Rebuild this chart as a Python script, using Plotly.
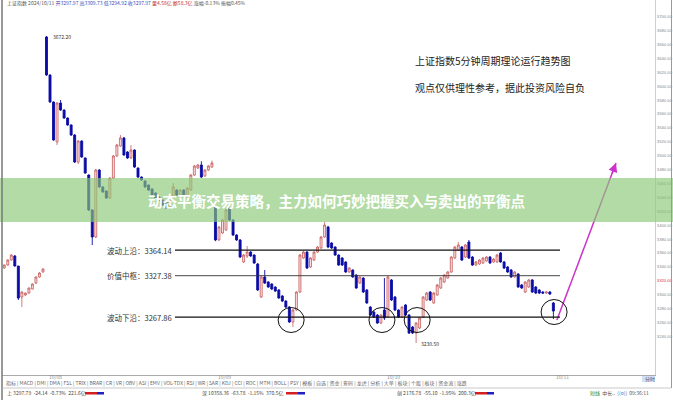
import plotly.graph_objects as go

# ---------------- data (SSE index, 5-minute bars) ----------------
# last bars of 2024/09/30
sep30_open  = [3338.4, 3342.7, 3349.9, 3355.7, 3341.3, 3296.7, 3299.6, 3302.4, 3308.2, 3316.8, 3325.5, 3332.7]
sep30_high  = [3343.5, 3351.0, 3358.5, 3357.1, 3341.3, 3305.0, 3303.0, 3310.5, 3316.5, 3326.5, 3332.5, 3338.0]
sep30_low   = [3337.5, 3342.0, 3349.0, 3340.5, 3292.4, 3282.3, 3298.5, 3301.5, 3307.5, 3315.5, 3324.5, 3332.0]
sep30_close = [3342.7, 3349.9, 3357.1, 3341.3, 3295.2, 3303.9, 3302.4, 3309.6, 3315.4, 3325.5, 3331.2, 3337.0]

oct08_open  = [3670.8, 3616.1, 3577.3, 3519.7, 3575.8, 3565.7, 3554.2, 3544.2, 3529.8, 3490.9, 3521.1, 3496.7,
               3472.2, 3421.9, 3383.0, 3479.4, 3455.0, 3449.2, 3439.1, 3467.9, 3499.6, 3514.0, 3525.5, 3505.3,
               3496.7, 3508.2, 3482.3, 3469.3, 3463.6, 3457.8, 3452.1, 3446.3, 3440.6, 3436.3, 3434.8, 3424.7,
               3440.6, 3450.6, 3443.5, 3450.6, 3440.6, 3450.6, 3472.2, 3482.3, 3486.6, 3470.8, 3479.4, 3483.7]
oct08_high  = [3672.2, 3617.0, 3578.0, 3577.0, 3580.1, 3566.5, 3555.0, 3545.0, 3531.0, 3522.5, 3522.0, 3497.5,
               3473.0, 3423.0, 3481.0, 3480.5, 3456.0, 3450.0, 3469.0, 3501.0, 3517.0, 3529.8, 3527.0, 3506.5,
               3515.4, 3509.0, 3483.0, 3470.0, 3464.5, 3458.5, 3453.0, 3447.0, 3441.5, 3437.0, 3435.5, 3443.0,
               3460.7, 3451.5, 3452.0, 3451.5, 3454.5, 3473.5, 3486.5, 3488.0, 3492.0, 3480.5, 3486.5, 3493.0]
oct08_low   = [3615.0, 3576.0, 3521.5, 3515.4, 3564.5, 3553.0, 3543.0, 3528.5, 3489.5, 3488.0, 3497.0, 3474.0,
               3420.5, 3371.5, 3381.5, 3454.0, 3446.5, 3438.0, 3437.5, 3466.5, 3498.5, 3513.0, 3500.0, 3495.5,
               3495.5, 3482.5, 3468.0, 3464.0, 3454.0, 3449.5, 3442.5, 3438.0, 3435.0, 3428.0, 3423.5, 3423.5,
               3439.5, 3442.5, 3442.5, 3439.5, 3439.5, 3449.5, 3471.0, 3481.0, 3468.0, 3469.5, 3478.0, 3482.5]
oct08_close = [3616.1, 3577.3, 3522.6, 3575.8, 3565.7, 3554.2, 3544.2, 3529.8, 3490.9, 3521.1, 3498.1, 3475.1,
               3421.9, 3383.0, 3479.4, 3455.0, 3447.8, 3439.1, 3467.9, 3499.6, 3515.4, 3525.5, 3501.0, 3496.7,
               3508.2, 3483.7, 3469.3, 3465.0, 3455.0, 3450.6, 3443.5, 3439.1, 3436.3, 3429.1, 3424.7, 3442.0,
               3455.0, 3443.5, 3450.6, 3440.6, 3453.5, 3472.2, 3485.2, 3486.6, 3469.3, 3479.4, 3485.2, 3489.5]

oct09_open  = [3426.2, 3378.7, 3388.8, 3393.1, 3424.7, 3407.5, 3385.9, 3378.7, 3347.1, 3355.7, 3361.4, 3357.1,
               3344.2, 3296.7, 3325.5, 3318.3, 3315.4, 3311.1, 3306.8, 3298.1, 3290.9, 3282.3, 3260.7, 3278.0,
               3303.9, 3352.8, 3361.4, 3339.9, 3349.9, 3361.4, 3367.2, 3383.0, 3397.4, 3374.4, 3368.6, 3357.1,
               3352.8, 3347.1, 3332.7, 3335.5, 3328.3, 3316.8, 3324.0, 3306.8, 3282.3, 3275.1, 3270.8, 3259.3]
oct09_high  = [3428.0, 3399.0, 3409.0, 3423.5, 3426.2, 3408.5, 3387.0, 3380.0, 3358.5, 3370.1, 3362.5, 3358.0,
               3345.5, 3327.0, 3335.5, 3319.5, 3316.5, 3312.0, 3308.0, 3299.5, 3292.0, 3283.5, 3279.5, 3305.0,
               3358.5, 3363.0, 3362.5, 3354.0, 3362.5, 3370.0, 3384.5, 3404.6, 3399.0, 3375.5, 3369.5, 3358.0,
               3354.0, 3348.0, 3339.5, 3336.5, 3329.5, 3326.5, 3325.0, 3308.0, 3283.5, 3276.5, 3272.0, 3272.0]
oct09_low   = [3377.0, 3377.5, 3387.5, 3392.0, 3406.0, 3384.5, 3377.5, 3353.0, 3345.5, 3352.8, 3354.5, 3344.5,
               3305.5, 3295.3, 3315.5, 3310.0, 3307.0, 3304.0, 3294.0, 3289.5, 3281.0, 3259.5, 3253.5, 3277.0,
               3302.5, 3351.5, 3337.0, 3338.5, 3348.5, 3360.0, 3366.0, 3382.0, 3367.0, 3366.0, 3356.0, 3341.5,
               3341.5, 3331.5, 3331.5, 3324.5, 3308.5, 3315.5, 3302.5, 3287.0, 3269.5, 3266.5, 3258.0, 3258.0]
oct09_close = [3378.7, 3397.4, 3407.5, 3421.9, 3407.5, 3385.9, 3378.7, 3354.2, 3357.1, 3361.4, 3355.7, 3345.6,
               3306.8, 3325.5, 3316.8, 3311.1, 3308.2, 3305.3, 3295.3, 3290.9, 3282.3, 3260.7, 3278.0, 3303.9,
               3357.1, 3361.4, 3338.4, 3352.8, 3361.4, 3368.6, 3383.0, 3400.3, 3368.6, 3367.2, 3357.1, 3342.7,
               3342.7, 3332.7, 3338.4, 3325.5, 3309.6, 3325.5, 3303.9, 3288.1, 3270.8, 3267.9, 3259.3, 3270.8]

oct10_open  = [3278.0, 3267.9, 3321.2, 3296.7, 3278.0, 3267.9, 3285.2, 3270.8, 3253.5, 3244.9, 3252.1, 3267.9,
               3292.4, 3303.9, 3288.1, 3299.6, 3309.6, 3318.3, 3324.0, 3332.7, 3352.8, 3364.3, 3368.6, 3354.2,
               3375.8, 3354.2, 3342.7, 3344.2, 3345.6, 3348.5, 3354.2, 3347.1, 3347.1, 3360.0, 3347.1, 3339.9,
               3335.5, 3325.5, 3329.8, 3314.0, 3303.9, 3311.1, 3321.2, 3311.1, 3306.8, 3303.9, 3302.4, 3303.9]
oct10_high  = [3324.0, 3327.0, 3322.5, 3298.0, 3279.0, 3283.5, 3286.5, 3272.0, 3255.0, 3260.5, 3268.0, 3298.0,
               3304.0, 3305.0, 3304.0, 3315.5, 3325.5, 3329.5, 3334.0, 3355.5, 3370.0, 3375.8, 3370.0, 3373.0,
               3378.7, 3355.5, 3348.5, 3351.0, 3354.0, 3355.5, 3355.5, 3352.5, 3358.5, 3361.5, 3348.5, 3341.0,
               3337.0, 3334.0, 3331.0, 3315.5, 3319.5, 3322.5, 3322.5, 3312.5, 3308.0, 3305.0, 3305.0, 3305.0]
oct10_low   = [3263.6, 3266.5, 3291.0, 3276.5, 3266.5, 3266.5, 3269.5, 3243.5, 3243.5, 3230.5, 3250.5, 3266.5,
               3291.0, 3291.0, 3287.0, 3298.5, 3308.5, 3317.0, 3323.0, 3331.5, 3351.5, 3363.0, 3348.5, 3353.0,
               3351.5, 3341.5, 3341.5, 3343.0, 3344.5, 3347.5, 3344.5, 3346.0, 3346.0, 3346.0, 3337.0, 3331.5,
               3324.5, 3324.5, 3310.0, 3308.5, 3302.5, 3310.0, 3302.5, 3301.0, 3301.0, 3301.0, 3301.0, 3300.0]
oct10_close = [3266.5, 3325.5, 3292.4, 3278.0, 3267.9, 3282.3, 3270.8, 3244.9, 3244.9, 3259.3, 3266.5, 3296.7,
               3302.4, 3292.4, 3302.4, 3314.0, 3324.0, 3328.3, 3332.7, 3354.2, 3368.6, 3371.5, 3349.9, 3371.5,
               3352.8, 3342.7, 3347.1, 3349.9, 3352.8, 3354.2, 3345.6, 3351.4, 3357.1, 3347.1, 3338.4, 3332.7,
               3325.5, 3332.7, 3311.1, 3309.6, 3318.3, 3321.2, 3303.9, 3302.4, 3302.4, 3302.4, 3303.9, 3301.0]

oct11_open  = [3288.1]
oct11_high  = [3289.5]
oct11_low   = [3265.0]
oct11_close = [3276.5]

day_labels = ["2024/09/30", "10/08", "10/09", "10/10", "10/11"]

level_names  = ["波动上沿", "价值中枢", "波动下沿"]
level_values = [3364.14, 3327.38, 3267.86]

ytick_values = list(range(3240, 3701, 20))

# circled bars (bar index, price)
circle_idx   = [69.5, 95.3, 105.3, 144.2]
circle_price = [3263.6, 3263.6, 3263.6, 3275.1]

# projected move arrow (bar index, price)
arrow_from = (145.0, 3263.6)
arrow_to   = (161.8, 3489.5)

# ---------------- assemble ----------------
opens  = sep30_open + oct08_open + oct09_open + oct10_open + oct11_open
highs  = sep30_high + oct08_high + oct09_high + oct10_high + oct11_high
lows   = sep30_low + oct08_low + oct09_low + oct10_low + oct11_low
closes = sep30_close + oct08_close + oct09_close + oct10_close + oct11_close
x_idx = list(range(-len(sep30_open), len(opens) - len(sep30_open)))
day_start_idx = [-12.65, 0, 48, 96, 144]

fig = go.Figure()
fig.add_trace(go.Candlestick(
    x=x_idx, open=opens, high=highs, low=lows, close=closes,
    increasing=dict(line=dict(color="#c45a5a", width=0.8), fillcolor="#ffe1e1"),
    decreasing=dict(line=dict(color="#0b0ba6", width=0.9), fillcolor="#0b0ba6"),
    whiskerwidth=0, showlegend=False, hoverinfo="skip",
))

# magenta projection line (drawn as trace so the banner tints it)
fig.add_trace(go.Scatter(
    x=[arrow_from[0], arrow_to[0]], y=[arrow_from[1], arrow_to[1]],
    mode="lines", line=dict(color="#cc33cc", width=1.5),
    showlegend=False, hoverinfo="skip",
))

X0, X1 = -12.64, 172.87
Y0, Y1 = 3184.5, 3724.0
PH = 375.0  # plot height in px


def py(p):
    return 1 - p / PH


shapes = []
annotations = []

# level lines + labels
line_start, line_end = 36.5, 145.9
for name, val, lw, col in zip(level_names, level_values, [1.3, 0.9, 1.3], ["#111", "#333", "#111"]):
    shapes.append(dict(type="line", xref="x", yref="y", x0=line_start, x1=line_end, y0=val, y1=val,
                       line=dict(color=col, width=lw), layer="above"))
    annotations.append(dict(xref="x", yref="y", x=line_start, y=val, xanchor="right", yanchor="middle",
                            xshift=-1, text=f"{name}：{val:.2f}", showarrow=False,
                            font=dict(size=7.5, color="#333", family="Noto Sans CJK SC")))

# circles
for ci, cp in zip(circle_idx, circle_price):
    shapes.append(dict(type="circle", xref="x", yref="y", xsizemode="pixel", ysizemode="pixel",
                       xanchor=ci, yanchor=cp, x0=-13, x1=13, y0=-12.5, y1=12.5,
                       line=dict(color="#111", width=1), layer="above"))

# banner
shapes.append(dict(type="rect", xref="paper", yref="paper", x0=-0.01, x1=1.04, y0=py(222), y1=py(178),
                   fillcolor="rgba(140,200,118,0.66)", line=dict(width=0), layer="above"))

# borders
shapes.append(dict(type="line", xref="paper", yref="paper", x0=0, x1=0, y0=py(400), y1=1,
                   line=dict(color="#777", width=1.5)))
shapes.append(dict(type="line", xref="paper", yref="paper", x0=(671.5 - 2) / 653, x1=(671.5 - 2) / 653,
                   y0=py(388), y1=1, line=dict(color="#999", width=1)))
shapes.append(dict(type="line", xref="paper", yref="paper", x0=0, x1=(671 - 2) / 653, y0=py(388), y1=py(388),
                   line=dict(color="#bbb", width=0.8)))
# "分时" tab box
shapes.append(dict(type="rect", xref="paper", yref="paper", x0=(642 - 2) / 653, x1=(655 - 2) / 653,
                   y0=py(382), y1=py(376), fillcolor="#cfe0f5", line=dict(width=0)))

# arrow head
annotations.append(dict(xref="x", yref="y", x=arrow_to[0], y=arrow_to[1], ax=-4.5, ay=12, text="",
                        showarrow=True, arrowhead=2, arrowsize=1.2, arrowwidth=1.5, arrowcolor="#cc33cc"))

# extreme labels
hi_i = highs.index(max(highs))
annotations.append(dict(xref="x", yref="y", x=x_idx[hi_i], y=highs[hi_i], xanchor="left", yanchor="middle",
                        xshift=5, text=f"{highs[hi_i]:.2f}", showarrow=False, font=dict(size=5, color="#333")))
lo_i = lows.index(min(lows[12:]))
annotations.append(dict(xref="x", yref="y", x=x_idx[lo_i], y=lows[lo_i], xanchor="left", yanchor="middle",
                        xshift=3, text=f"{lows[lo_i]:.2f}", showarrow=False, font=dict(size=5, color="#333")))

# title texts
annotations.append(dict(xref="paper", yref="paper", x=(413 - 2) / 653, y=py(60), xanchor="left", yanchor="middle",
                        text="上证指数5分钟周期理论运行趋势图", showarrow=False,
                        font=dict(size=10, color="#222", family="Noto Sans CJK SC")))
annotations.append(dict(xref="paper", yref="paper", x=(413 - 2) / 653, y=py(87), xanchor="left", yanchor="middle",
                        text="观点仅供理性参考，据此投资风险自负", showarrow=False,
                        font=dict(size=10, color="#222", family="Noto Sans CJK SC")))

# banner title
annotations.append(dict(xref="paper", yref="paper", x=(336.5 - 2) / 653, y=py(200), xanchor="center",
                        yanchor="middle", text="<b>动态平衡交易策略，主力如何巧妙把握买入与卖出的平衡点</b>",
                        showarrow=False, font=dict(size=14.5, color="white", family="Noto Sans CJK SC")))

# header line
annotations.append(dict(xref="paper", yref="paper", x=0.004, y=py(3.5), xanchor="left", yanchor="middle",
                        text=("上证指数 2024/10/11 <span style='color:#3050c0'>开3297.97 高3309.73 低3294.92 收3297.97</span>"
                              " <span style='color:#c03030'>量4.58亿 额58.3亿</span> 涨幅-0.13% 振幅0.45%"),
                        showarrow=False, font=dict(size=5, color="#555")))

# date labels under the axis
for lab, di in zip(day_labels, day_start_idx):
    annotations.append(dict(xref="x", yref="paper", x=di, y=py(376.5), xanchor="left", yanchor="middle",
                            xshift=1, text=lab, showarrow=False, font=dict(size=5, color="#888")))

# indicator tab row
tabs = ("指标 | MACD | DMI | DMA | FSL | TRIX | BRAR | CR | VR | OBV | ASI | EMV | VOL-TDX | RSI | WR | SAR | KDJ | CCI | "
        "ROC | MTM | BOLL | PSY | 模板 | 自选 | 资金 | 筹码 | 龙虎 | 分析 | 大单 | 板块 | 个股 | 板块 | 资金流 | 涨跌")
annotations.append(dict(xref="paper", yref="paper", x=0.003, y=py(383), xanchor="left", yanchor="middle",
                        text=tabs, showarrow=False, font=dict(size=5, color="#666")))
annotations.append(dict(xref="paper", yref="paper", x=(643 - 2) / 653, y=py(379), xanchor="left", yanchor="middle",
                        text="分时", showarrow=False, font=dict(size=5, color="#557")))

# status row
status = [(5, "上 3297.79  -24.14  -0.73%  221.6亿", 85),
          (200, "深 10358.36  -63.78  -1.15%  370.5亿", 286),
          (395, "创 2176.78  -55.10  -1.95%  200.3亿", 475)]
for sx, stxt, bx in status:
    annotations.append(dict(xref="paper", yref="paper", x=(sx - 2) / 653, y=py(393), xanchor="left",
                            yanchor="middle", text=stxt, showarrow=False, font=dict(size=5, color="#444")))
    shapes.append(dict(type="rect", xref="paper", yref="paper", x0=(bx - 2) / 653, x1=(bx + 12 - 2) / 653,
                       y0=py(394.5), y1=py(392), fillcolor="#d02020", line=dict(width=0)))
    shapes.append(dict(type="rect", xref="paper", yref="paper", x0=(bx + 12 - 2) / 653, x1=(bx + 19 - 2) / 653,
                       y0=py(394.5), y1=py(392), fillcolor="#2020c0", line=dict(width=0)))
annotations.append(dict(xref="paper", yref="paper", x=(588 - 2) / 653, y=py(393), xanchor="left", yanchor="middle",
                        text="<span style='color:#2a8a2a'>短线</span>  中长..  <span style='color:#3a70c0'>((o))</span>  09:36:11",
                        showarrow=False, font=dict(size=5, color="#555")))

ticktext = [("<span style='color:#d03030'>%.2f</span>" % v) if v == 3320 else "%.2f" % v for v in ytick_values]

fig.update_layout(
    width=673, height=400,
    margin=dict(l=2, r=18, t=0, b=25),
    paper_bgcolor="white", plot_bgcolor="white",
    boxgap=0.2,
    font=dict(family="Noto Sans CJK SC, DejaVu Sans, sans-serif"),
    xaxis=dict(range=[X0, X1], showgrid=False, zeroline=False, showticklabels=False,
               showline=True, linecolor="#aaa", linewidth=1, rangeslider=dict(visible=False), fixedrange=True),
    yaxis=dict(range=[Y0, Y1], side="right", showgrid=False, zeroline=False, showline=True,
               linecolor="#cfcfcf", linewidth=1, tickvals=ytick_values, ticktext=ticktext,
               tickfont=dict(size=4.2, color="#888", family="Liberation Sans"), ticks="", automargin=False),
    shapes=shapes, annotations=annotations,
    showlegend=False,
)

fig.write_html("out.html", config={"displayModeBar": False},
               post_script="document.body.style.margin='0';document.body.style.padding='0';")
